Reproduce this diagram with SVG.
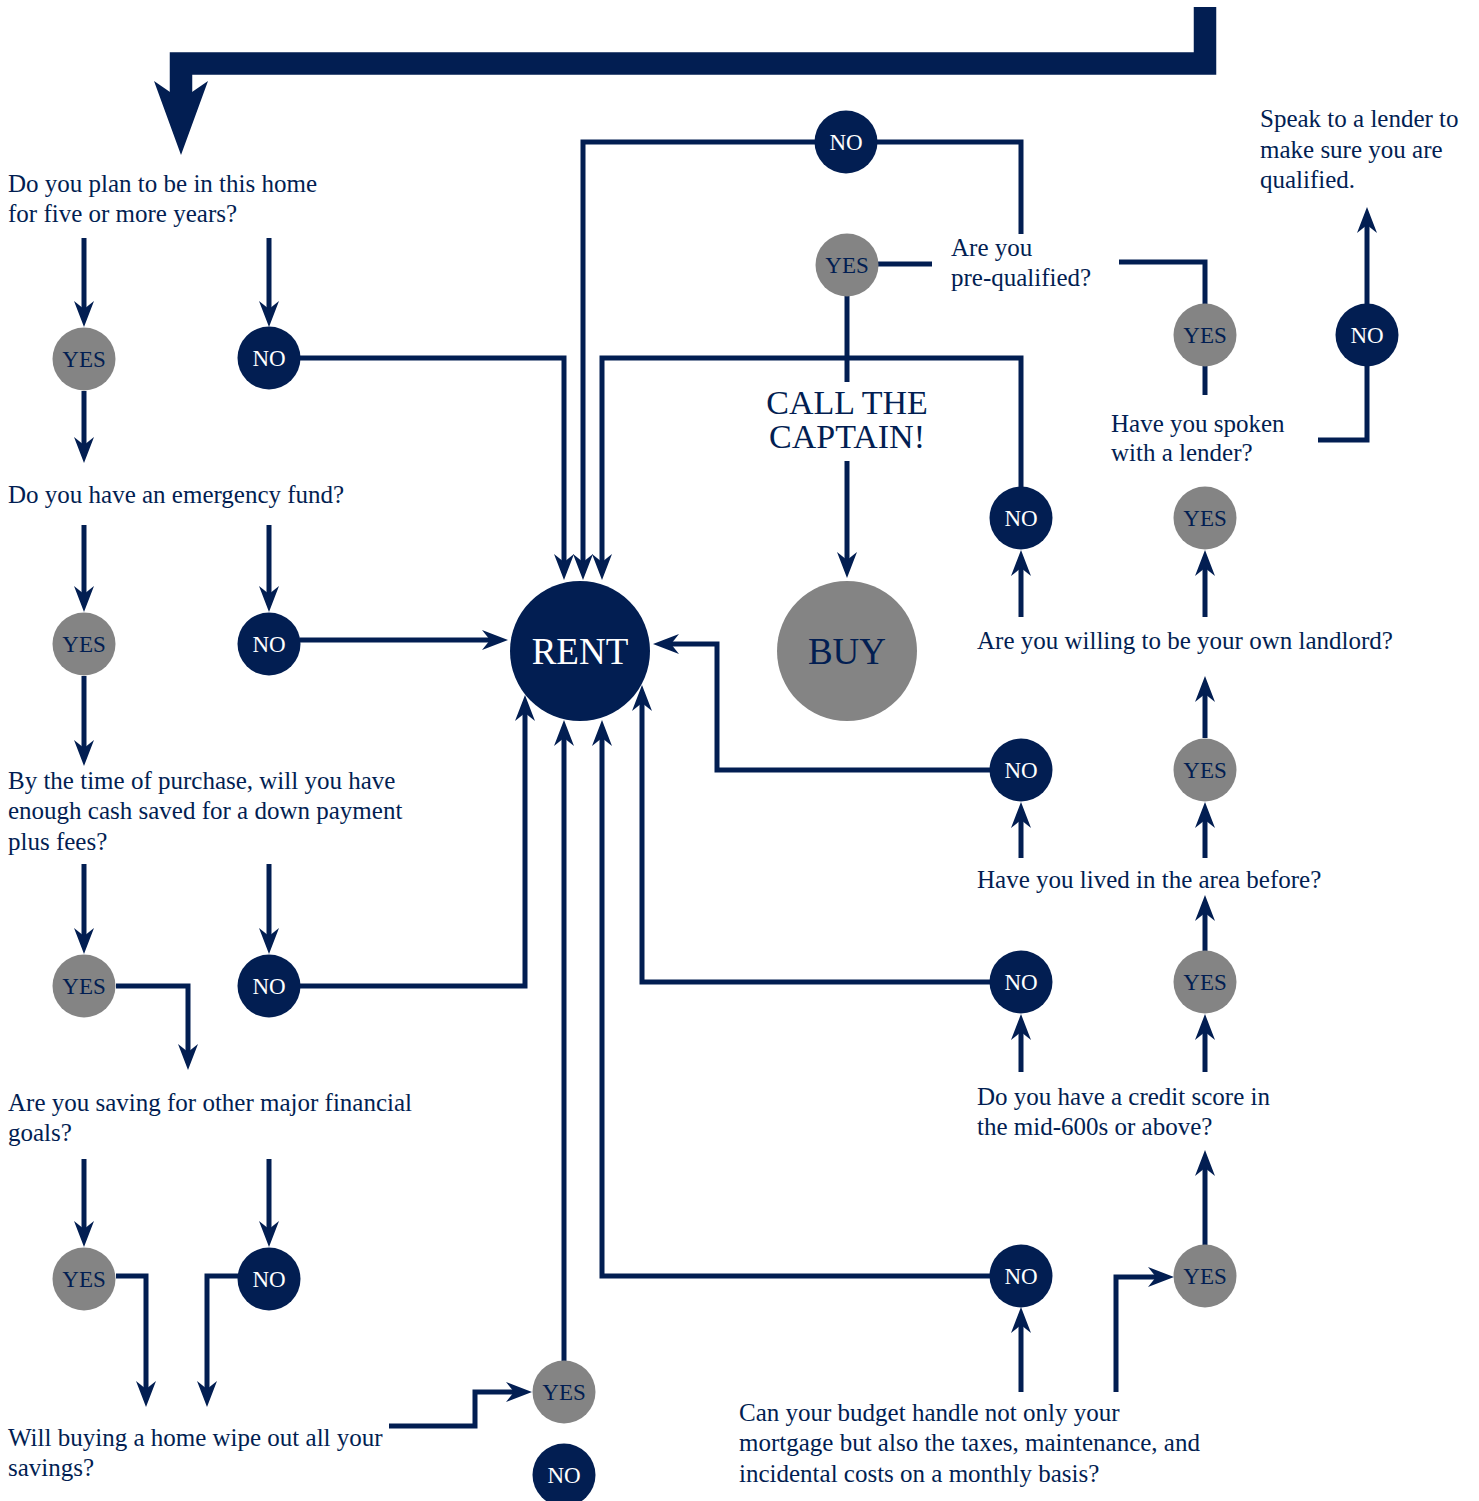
<svg xmlns="http://www.w3.org/2000/svg" width="1479" height="1501" viewBox="0 0 1479 1501">
<style>
.q{font-family:"Liberation Serif","Times New Roman",serif;font-size:25px;fill:#021e52}
.c{stroke:#021e52;stroke-width:5;fill:none;stroke-linejoin:miter}
.ca{stroke:#021e52;stroke-width:5;fill:none;stroke-linejoin:miter;marker-end:url(#ah)}
.yes{fill:#848484}
.no{fill:#021e52}
.yl{font-family:"Liberation Serif","Times New Roman",serif;font-size:23px;fill:#021e52;text-anchor:middle}
.nl{font-family:"Liberation Serif","Times New Roman",serif;font-size:23px;fill:#ffffff;text-anchor:middle}
.big{font-family:"Liberation Serif","Times New Roman",serif;font-size:37px;text-anchor:middle}
.cap{font-family:"Liberation Serif","Times New Roman",serif;font-size:34px;fill:#021e52;text-anchor:middle}
</style>
<defs>
<marker id="ah" markerUnits="userSpaceOnUse" viewBox="-10 -12 32 24" markerWidth="32" markerHeight="24" refX="0" refY="0" orient="auto" overflow="visible">
<path d="M-8,-10 L18,0 L-8,10 L0,0 Z" fill="#021e52"/>
</marker>
</defs>
<rect width="1479" height="1501" fill="#ffffff"/>

<g id="start-arrow">
<path d="M1205,7 V63.5 H181 V96" stroke="#021e52" stroke-width="22.5" fill="none" stroke-linejoin="miter"/>
<polygon points="154,81 170,92 192,92 208,81 181,155" fill="#021e52"/>
</g>

<g id="connectors">
<path class="ca" d="M84,238 V309"/>
<path class="ca" d="M269,238 V309"/>
<path class="ca" d="M84,391 V445"/>
<path class="ca" d="M300,358 H564 V562"/>
<path class="ca" d="M84,525 V594"/>
<path class="ca" d="M269,525 V594"/>
<path class="ca" d="M300,640 H490"/>
<path class="ca" d="M84,676 V748"/>
<path class="ca" d="M84,864 V936"/>
<path class="ca" d="M269,864 V936"/>
<path class="ca" d="M116,986 H188 V1052"/>
<path class="ca" d="M300,986 H525 V713"/>
<path class="ca" d="M84,1159 V1229"/>
<path class="ca" d="M269,1159 V1229"/>
<path class="ca" d="M116,1276 H146 V1389"/>
<path class="ca" d="M238,1276 H207 V1389"/>
<path class="ca" d="M389,1426 H475 V1392 H514"/>
<path class="ca" d="M564,1361 V738"/>
<path class="ca" d="M990,1276 H602 V738"/>
<path class="ca" d="M990,982 H642 V703"/>
<path class="ca" d="M990,770 H717 V644 H671"/>
<path class="ca" d="M1021,487 V358 H602 V562"/>
<path class="ca" d="M815,142 H583 V562"/>
<path class="c" d="M877,142 H1021 V234"/>
<path class="c" d="M878,264 H932"/>
<path class="c" d="M847,296 V382"/>
<path class="ca" d="M847,461 V560"/>
<path class="c" d="M1119,262 H1205 V304"/>
<path class="c" d="M1205,366 V395"/>
<path class="c" d="M1367,366 V440 H1318"/>
<path class="ca" d="M1367,304 V225"/>
<path class="ca" d="M1021,617 V568"/>
<path class="ca" d="M1205,617 V568"/>
<path class="ca" d="M1205,738 V694"/>
<path class="ca" d="M1021,858 V820"/>
<path class="ca" d="M1205,858 V820"/>
<path class="ca" d="M1205,951 V913"/>
<path class="ca" d="M1021,1072 V1032"/>
<path class="ca" d="M1205,1072 V1032"/>
<path class="ca" d="M1205,1245 V1168"/>
<path class="ca" d="M1021,1392 V1325"/>
<path class="ca" d="M1116,1392 V1277 H1156"/>
</g>

<g id="q-five-years"><text class="q" x="8" y="192">Do you plan to be in this home</text><text class="q" x="8" y="222">for five or more years?</text></g>
<g id="q-emergency"><text class="q" x="8" y="503">Do you have an emergency fund?</text></g>
<g id="q-down-payment"><text class="q" x="8" y="789">By the time of purchase, will you have</text><text class="q" x="8" y="819">enough cash saved for a down payment</text><text class="q" x="8" y="850">plus fees?</text></g>
<g id="q-other-goals"><text class="q" x="8" y="1111">Are you saving for other major financial</text><text class="q" x="8" y="1141">goals?</text></g>
<g id="q-wipe-savings"><text class="q" x="8" y="1446">Will buying a home wipe out all your</text><text class="q" x="8" y="1476">savings?</text></g>
<g id="q-prequalified"><text class="q" x="951" y="256">Are you</text><text class="q" x="951" y="286">pre-qualified?</text></g>
<g id="speak-lender"><text class="q" x="1260" y="127">Speak to a lender to</text><text class="q" x="1260" y="158">make sure you are</text><text class="q" x="1260" y="188">qualified.</text></g>
<g id="q-spoken-lender"><text class="q" x="1111" y="432">Have you spoken</text><text class="q" x="1111" y="461">with a lender?</text></g>
<g id="call-captain"><text class="cap" x="847" y="414">CALL THE</text><text class="cap" x="847" y="448">CAPTAIN!</text></g>
<g id="q-landlord"><text class="q" x="977" y="649">Are you willing to be your own landlord?</text></g>
<g id="q-lived-area"><text class="q" x="977" y="888">Have you lived in the area before?</text></g>
<g id="q-credit"><text class="q" x="977" y="1105">Do you have a credit score in</text><text class="q" x="977" y="1135">the mid-600s or above?</text></g>
<g id="q-budget"><text class="q" x="739" y="1421">Can your budget handle not only your</text><text class="q" x="739" y="1451">mortgage but also the taxes, maintenance, and</text><text class="q" x="739" y="1482">incidental costs on a monthly basis?</text></g>

<g id="rent"><circle cx="580" cy="651" r="70" class="no"/><text class="big" x="580" y="664" fill="#ffffff">RENT</text></g>
<g id="buy"><circle cx="847" cy="651" r="70" class="yes"/><text class="big" x="847" y="664" fill="#021e52">BUY</text></g>

<g id="yes1"><circle cx="84" cy="359" r="31.5" class="yes"/><text class="yl" x="84" y="367">YES</text></g>
<g id="no1"><circle cx="269" cy="358" r="31.5" class="no"/><text class="nl" x="269" y="366">NO</text></g>
<g id="yes2"><circle cx="84" cy="644" r="31.5" class="yes"/><text class="yl" x="84" y="652">YES</text></g>
<g id="no2"><circle cx="269" cy="644" r="31.5" class="no"/><text class="nl" x="269" y="652">NO</text></g>
<g id="yes3"><circle cx="84" cy="986" r="31.5" class="yes"/><text class="yl" x="84" y="994">YES</text></g>
<g id="no3"><circle cx="269" cy="986" r="31.5" class="no"/><text class="nl" x="269" y="994">NO</text></g>
<g id="yes4"><circle cx="84" cy="1279" r="31.5" class="yes"/><text class="yl" x="84" y="1287">YES</text></g>
<g id="no4"><circle cx="269" cy="1279" r="31.5" class="no"/><text class="nl" x="269" y="1287">NO</text></g>
<g id="yes5"><circle cx="564" cy="1392" r="31.5" class="yes"/><text class="yl" x="564" y="1400">YES</text></g>
<g id="no5"><circle cx="564" cy="1475" r="31.5" class="no"/><text class="nl" x="564" y="1483">NO</text></g>
<g id="no-prequal"><circle cx="846" cy="142" r="31.5" class="no"/><text class="nl" x="846" y="150">NO</text></g>
<g id="yes-prequal"><circle cx="847" cy="265" r="31.5" class="yes"/><text class="yl" x="847" y="273">YES</text></g>
<g id="yes-lender"><circle cx="1205" cy="335" r="31.5" class="yes"/><text class="yl" x="1205" y="343">YES</text></g>
<g id="no-lender"><circle cx="1367" cy="335" r="31.5" class="no"/><text class="nl" x="1367" y="343">NO</text></g>
<g id="no-landlord"><circle cx="1021" cy="518" r="31.5" class="no"/><text class="nl" x="1021" y="526">NO</text></g>
<g id="yes-landlord"><circle cx="1205" cy="518" r="31.5" class="yes"/><text class="yl" x="1205" y="526">YES</text></g>
<g id="no-area"><circle cx="1021" cy="770" r="31.5" class="no"/><text class="nl" x="1021" y="778">NO</text></g>
<g id="yes-area"><circle cx="1205" cy="770" r="31.5" class="yes"/><text class="yl" x="1205" y="778">YES</text></g>
<g id="no-credit"><circle cx="1021" cy="982" r="31.5" class="no"/><text class="nl" x="1021" y="990">NO</text></g>
<g id="yes-credit"><circle cx="1205" cy="982" r="31.5" class="yes"/><text class="yl" x="1205" y="990">YES</text></g>
<g id="no-budget"><circle cx="1021" cy="1276" r="31.5" class="no"/><text class="nl" x="1021" y="1284">NO</text></g>
<g id="yes-budget"><circle cx="1205" cy="1276" r="31.5" class="yes"/><text class="yl" x="1205" y="1284">YES</text></g>
</svg>
